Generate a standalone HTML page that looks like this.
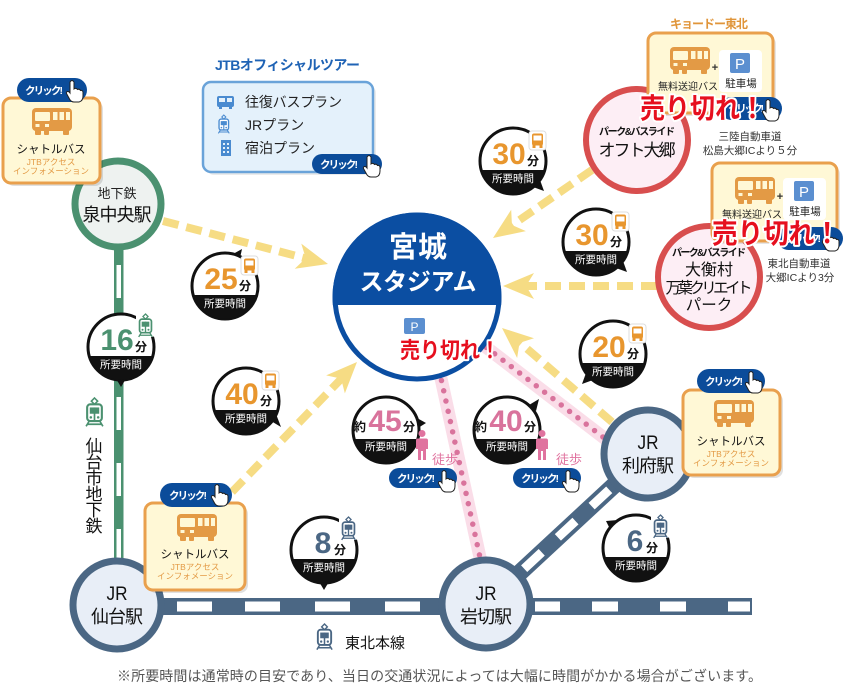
<!DOCTYPE html>
<html><head><meta charset="utf-8">
<style>
html,body{margin:0;padding:0;background:#fff;}
svg{display:block;font-family:"Liberation Sans","Noto Sans CJK JP",sans-serif;}
.uk{fill:#e60f1e;stroke:#fff;stroke-width:4;paint-order:stroke;font-weight:bold;stroke-linejoin:round;}
.pt{fill:#fff;font-size:10.5px;font-weight:bold;}
.wt{fill:#fff;font-size:10.5px;}
</style></head><body>
<svg width="850" height="700" viewBox="0 0 850 700" xmlns="http://www.w3.org/2000/svg">
<defs>
 <g id="hand"><path d="M4,2 Q6,-1 8,2 L8,9 Q10,7.5 11.5,9.5 Q13.5,8.5 14.5,10.5 Q16.5,10 17,12 L17,16 Q17,21 13,22 L8,22 Q5,22 3.5,19 L0.5,13.5 Q0,11.5 2,11.5 Q3,11.5 4,13 Z" fill="#fff" stroke="#222" stroke-width="1"/></g>
 <g id="bus">
   <rect x="0" y="0" width="40" height="23" rx="4" fill="#e39a45"/>
   <rect x="3" y="4" width="15" height="9" rx="1" fill="#fff8d6"/>
   <rect x="21" y="4" width="4.5" height="8" fill="#fff8d6"/>
   <rect x="27.5" y="4" width="4.5" height="8" fill="#fff8d6"/>
   <rect x="34" y="4" width="4" height="8" fill="#fff8d6"/>
   <rect x="3.5" y="16" width="4" height="3" fill="#fff8d6"/>
   <rect x="13" y="16" width="4" height="3" fill="#fff8d6"/>
   <rect x="3" y="21" width="6" height="6" rx="1" fill="#e39a45"/>
   <rect x="12" y="21" width="5" height="6" rx="1" fill="#e39a45"/>
   <rect x="31" y="21" width="6" height="6" rx="1" fill="#e39a45"/>
 </g>
 <g id="bb">
   <rect x="0" y="0" width="17" height="19" rx="3" fill="#fff" stroke="#ddd" stroke-width="1"/>
   <rect x="3" y="2.5" width="11" height="12" rx="2" fill="#e8962e"/>
   <rect x="4.5" y="4.5" width="8" height="5" fill="#fff"/>
   <rect x="3.5" y="14" width="3" height="3" fill="#e8962e"/>
   <rect x="10.5" y="14" width="3" height="3" fill="#e8962e"/>
 </g>
 <g id="tr">
   <path d="M10,0 L13,3 L10,6 L7,3 Z" fill="none" stroke="currentColor" stroke-width="1.5"/>
   <rect x="3" y="6" width="14" height="16" rx="3" fill="#fff" stroke="currentColor" stroke-width="2"/>
   <rect x="5.5" y="9" width="9" height="6" fill="currentColor"/>
   <rect x="9.2" y="9" width="1.6" height="13" fill="currentColor"/>
   <circle cx="6.5" cy="18.5" r="1.2" fill="currentColor"/>
   <circle cx="13.5" cy="18.5" r="1.2" fill="currentColor"/>
   <path d="M5,22 L2,27 M15,22 L18,27 M3,25 H17" stroke="currentColor" stroke-width="1.6" fill="none"/>
 </g>
 <path id="ah" d="M0,0 L31,-13 L23,0 L31,13 Z" fill="#f6dc84"/>
 <g id="person" fill="#e0739f">
   <circle cx="6" cy="3.5" r="3.5"/>
   <path d="M2,8.5 H10 Q12,8.5 12,10.5 V19 H10 V30 H7 V21 H5 V30 H2 V19 H0 V10.5 Q0,8.5 2,8.5 Z"/>
 </g>
 <clipPath id="stTop"><rect x="300" y="200" width="240" height="105"/></clipPath>
</defs>

<rect width="850" height="700" fill="#fff"/>

<!-- green subway -->
<rect x="114" y="240" width="9.5" height="330" fill="#4b9170"/>
<g fill="#fff">
 <rect x="116.5" y="265" width="4.5" height="33"/>
 <rect x="116.5" y="331" width="4.5" height="33"/>
 <rect x="116.5" y="397" width="4.5" height="33"/>
 <rect x="116.5" y="463" width="4.5" height="33"/>
 <rect x="116.5" y="529" width="4.5" height="33"/>
</g>

<!-- Tohoku main line -->
<rect x="118" y="598" width="634" height="17" fill="#4b6784"/>
<g fill="#fff">
 <rect x="177" y="601.5" width="35" height="10"/>
 <rect x="245" y="601.5" width="35" height="10"/>
 <rect x="315" y="601.5" width="35" height="10"/>
 <rect x="385" y="601.5" width="35" height="10"/>
 <rect x="535" y="601.5" width="25" height="10"/>
 <rect x="592" y="601.5" width="26" height="10"/>
 <rect x="660" y="601.5" width="26" height="10"/>
 <rect x="728" y="601.5" width="22" height="10"/>
</g>
<line x1="486" y1="604" x2="650" y2="452" stroke="#4b6784" stroke-width="17"/>
<line x1="486" y1="604" x2="650" y2="452" stroke="#fff" stroke-width="9" stroke-dasharray="24 22" stroke-dashoffset="-6"/>

<!-- pink walking paths -->
<line x1="437" y1="360" x2="481" y2="562" stroke="#fadde8" stroke-width="13"/>
<line x1="437" y1="360" x2="481" y2="562" stroke="#d9739c" stroke-width="5.5" stroke-linecap="round" stroke-dasharray="0 10.5"/>
<line x1="478" y1="341" x2="612" y2="444" stroke="#fadde8" stroke-width="13"/>
<line x1="478" y1="341" x2="612" y2="444" stroke="#d9739c" stroke-width="5.5" stroke-linecap="round" stroke-dasharray="0 10.5"/>

<!-- yellow dashed arrows -->
<g stroke="#f6dc84" stroke-width="8" stroke-dasharray="16 8" fill="none">
 <line x1="163" y1="221" x2="312" y2="260"/>
 <line x1="592" y1="170" x2="508" y2="228"/>
 <line x1="657" y1="286" x2="522" y2="286"/>
 <line x1="612" y1="422" x2="518" y2="341"/>
 <line x1="232" y1="492" x2="343" y2="377"/>
</g>
<use href="#ah" transform="translate(328,264) rotate(194.6)"/>
<use href="#ah" transform="translate(493,238) rotate(-34.5)"/>
<use href="#ah" transform="translate(503,286)"/>
<use href="#ah" transform="translate(502,328) rotate(40.5)"/>
<use href="#ah" transform="translate(357,362) rotate(133.9)"/>

<!-- stations -->
<circle cx="118" cy="204" r="43" fill="#eef2f0" stroke="#4b9170" stroke-width="7"/>
<text x="117" y="198" text-anchor="middle" font-size="13" fill="#222">地下鉄</text>
<text x="117" y="221" text-anchor="middle" font-size="18" fill="#111" textLength="69">泉中央駅</text>

<circle cx="117" cy="605" r="44" fill="#e8eef7" stroke="#4b6784" stroke-width="7"/>
<text x="117" y="600" text-anchor="middle" font-size="19" fill="#111" textLength="21" lengthAdjust="spacingAndGlyphs">JR</text>
<text x="117" y="623" text-anchor="middle" font-size="18" fill="#111" textLength="52">仙台駅</text>

<circle cx="486" cy="604" r="44" fill="#e8eef7" stroke="#4b6784" stroke-width="7"/>
<text x="486" y="600" text-anchor="middle" font-size="19" fill="#111" textLength="21" lengthAdjust="spacingAndGlyphs">JR</text>
<text x="486" y="623" text-anchor="middle" font-size="18" fill="#111" textLength="52">岩切駅</text>

<circle cx="648" cy="454" r="44" fill="#e8eef7" stroke="#4b6784" stroke-width="7"/>
<text x="648" y="449" text-anchor="middle" font-size="19" fill="#111" textLength="21" lengthAdjust="spacingAndGlyphs">JR</text>
<text x="648" y="472" text-anchor="middle" font-size="18" fill="#111" textLength="52">利府駅</text>

<!-- stadium -->
<circle cx="417" cy="297" r="82" fill="#fff" stroke="#0b4ea2" stroke-width="5"/>
<circle cx="417" cy="297" r="84.5" fill="#0b4ea2" clip-path="url(#stTop)"/>
<text x="418" y="257" text-anchor="middle" font-size="29" font-weight="bold" fill="#fff">宮城</text>
<text x="418" y="290" text-anchor="middle" font-size="24" font-weight="bold" fill="#fff" textLength="117">スタジアム</text>
<rect x="404" y="318" width="21" height="16" rx="2" fill="#5b8fd0"/>
<text x="414.5" y="331" text-anchor="middle" font-size="12" fill="#fff">P</text>

<!-- Park & bus ride circles -->
<circle cx="637" cy="140" r="51" fill="#fdeef5" stroke="#d84e4e" stroke-width="6"/>
<text x="637" y="135" text-anchor="middle" font-size="10" font-weight="bold" fill="#111" textLength="76">パーク&amp;バスライド</text>
<text x="637" y="156" text-anchor="middle" font-size="17" fill="#111" textLength="77">オフト大郷</text>

<circle cx="709" cy="277" r="51" fill="#fdeef5" stroke="#d84e4e" stroke-width="6"/>
<text x="709" y="256" text-anchor="middle" font-size="10" font-weight="bold" fill="#111" textLength="74">パーク&amp;バスライド</text>
<text x="709" y="275" text-anchor="middle" font-size="16" fill="#111">大衡村</text>
<text x="709" y="293" text-anchor="middle" font-size="15.5" fill="#111" textLength="87">万葉クリエイト</text>
<text x="709" y="310" text-anchor="middle" font-size="15.5" fill="#111">パーク</text>

<!-- time badges -->
<g transform="translate(225,286)">
 <polygon points="8,-32 17,-37 15,-28" fill="#111"/>
 <circle r="33" fill="#fff" stroke="#111" stroke-width="3"/>
 <path d="M-31.7,9 A33,33 0 0 0 31.7,9 Z" fill="#111"/>
 <text x="-4" y="3" text-anchor="middle" font-size="30" font-weight="bold" fill="#e8962e">25</text>
 <text x="14" y="4" font-size="12" font-weight="bold" fill="#111">分</text>
 <text x="0" y="21" text-anchor="middle" class="wt">所要時間</text>
 <use href="#bb" x="16" y="-30"/>
</g>
<g transform="translate(246,401)">
 <polygon points="25,20 35,26 30,13" fill="#111"/>
 <circle r="33" fill="#fff" stroke="#111" stroke-width="3"/>
 <path d="M-31.7,9 A33,33 0 0 0 31.7,9 Z" fill="#111"/>
 <text x="-4" y="3" text-anchor="middle" font-size="30" font-weight="bold" fill="#e8962e">40</text>
 <text x="14" y="4" font-size="12" font-weight="bold" fill="#111">分</text>
 <text x="0" y="21" text-anchor="middle" class="wt">所要時間</text>
 <use href="#bb" x="16" y="-30"/>
</g>
<g transform="translate(121,347)">
 <polygon points="-6,30 6,30 0,40" fill="#111"/>
 <circle r="33" fill="#fff" stroke="#111" stroke-width="3"/>
 <path d="M-31.7,9 A33,33 0 0 0 31.7,9 Z" fill="#111"/>
 <text x="-4" y="3" text-anchor="middle" font-size="30" font-weight="bold" fill="#4b9170">16</text>
 <text x="14" y="4" font-size="12" font-weight="bold" fill="#111">分</text>
 <text x="0" y="21" text-anchor="middle" class="wt">所要時間</text>
 <rect x="15" y="-34" width="19" height="24" rx="3" fill="#fff"/>
 <use href="#tr" transform="translate(16,-33) scale(0.85)" style="color:#4b9170"/>
</g>
<g transform="translate(513,161)">
 <polygon points="20,26 31,30 27,19" fill="#111"/>
 <circle r="33" fill="#fff" stroke="#111" stroke-width="3"/>
 <path d="M-31.7,9 A33,33 0 0 0 31.7,9 Z" fill="#111"/>
 <text x="-4" y="3" text-anchor="middle" font-size="30" font-weight="bold" fill="#e8962e">30</text>
 <text x="14" y="4" font-size="12" font-weight="bold" fill="#111">分</text>
 <text x="0" y="21" text-anchor="middle" class="wt">所要時間</text>
 <use href="#bb" x="16" y="-30"/>
</g>
<g transform="translate(596,242)">
 <polygon points="20,26 31,30 27,19" fill="#111"/>
 <circle r="33" fill="#fff" stroke="#111" stroke-width="3"/>
 <path d="M-31.7,9 A33,33 0 0 0 31.7,9 Z" fill="#111"/>
 <text x="-4" y="3" text-anchor="middle" font-size="30" font-weight="bold" fill="#e8962e">30</text>
 <text x="14" y="4" font-size="12" font-weight="bold" fill="#111">分</text>
 <text x="0" y="21" text-anchor="middle" class="wt">所要時間</text>
 <use href="#bb" x="16" y="-30"/>
</g>
<g transform="translate(613,354)">
 <polygon points="-20,26 -31,30 -27,19" fill="#111"/>
 <circle r="33" fill="#fff" stroke="#111" stroke-width="3"/>
 <path d="M-31.7,9 A33,33 0 0 0 31.7,9 Z" fill="#111"/>
 <text x="-4" y="3" text-anchor="middle" font-size="30" font-weight="bold" fill="#e8962e">20</text>
 <text x="14" y="4" font-size="12" font-weight="bold" fill="#111">分</text>
 <text x="0" y="21" text-anchor="middle" class="wt">所要時間</text>
 <use href="#bb" x="16" y="-30"/>
</g>
<g transform="translate(386,430)">
 <polygon points="31,-12 40,-7 32,-2" fill="#111"/>
 <circle r="33" fill="#fff" stroke="#111" stroke-width="3"/>
 <path d="M-31.7,9 A33,33 0 0 0 31.7,9 Z" fill="#111"/>
 <text x="-26" y="1" text-anchor="middle" font-size="12" font-weight="bold" fill="#111">約</text>
 <text x="-1" y="1" text-anchor="middle" font-size="30" font-weight="bold" fill="#d9739c">45</text>
 <text x="17" y="1" font-size="12" font-weight="bold" fill="#111">分</text>
 <text x="0" y="20" text-anchor="middle" class="wt">所要時間</text>
</g>
<g transform="translate(507,430)">
 <polygon points="22,-25 32,-31 29,-19" fill="#111"/>
 <circle r="33" fill="#fff" stroke="#111" stroke-width="3"/>
 <path d="M-31.7,9 A33,33 0 0 0 31.7,9 Z" fill="#111"/>
 <text x="-26" y="1" text-anchor="middle" font-size="12" font-weight="bold" fill="#111">約</text>
 <text x="-1" y="1" text-anchor="middle" font-size="30" font-weight="bold" fill="#d9739c">40</text>
 <text x="17" y="1" font-size="12" font-weight="bold" fill="#111">分</text>
 <text x="0" y="20" text-anchor="middle" class="wt">所要時間</text>
</g>
<g transform="translate(324,550)">
 <polygon points="-6,30 6,30 0,40" fill="#111"/>
 <circle r="33" fill="#fff" stroke="#111" stroke-width="3"/>
 <path d="M-31.7,9 A33,33 0 0 0 31.7,9 Z" fill="#111"/>
 <text x="-1" y="3" text-anchor="middle" font-size="30" font-weight="bold" fill="#4b6784">8</text>
 <text x="10" y="4" font-size="12" font-weight="bold" fill="#111">分</text>
 <text x="0" y="21" text-anchor="middle" class="wt">所要時間</text>
 <rect x="15" y="-34" width="19" height="24" rx="3" fill="#fff"/>
 <use href="#tr" transform="translate(16,-33) scale(0.85)" style="color:#4b6784"/>
</g>
<g transform="translate(636,548)">
 <polygon points="-18,-28 -30,-27 -25,-17" fill="#111"/>
 <circle r="33" fill="#fff" stroke="#111" stroke-width="3"/>
 <path d="M-31.7,9 A33,33 0 0 0 31.7,9 Z" fill="#111"/>
 <text x="-1" y="3" text-anchor="middle" font-size="30" font-weight="bold" fill="#4b6784">6</text>
 <text x="10" y="4" font-size="12" font-weight="bold" fill="#111">分</text>
 <text x="0" y="21" text-anchor="middle" class="wt">所要時間</text>
 <rect x="15" y="-34" width="19" height="24" rx="3" fill="#fff"/>
 <use href="#tr" transform="translate(16,-33) scale(0.85)" style="color:#4b6784"/>
</g>

<!-- walking -->
<use href="#person" x="416" y="430"/>
<text x="432" y="464" font-size="13" fill="#e0739f">徒歩</text>
<use href="#person" x="536" y="430"/>
<text x="556" y="464" font-size="13" fill="#e0739f">徒歩</text>
<rect x="389" y="468" width="68" height="20" rx="10" fill="#0b4c9a"/>
<text x="397" y="482" class="pt" textLength="38">クリック!</text>
<use href="#hand" x="438" y="470"/>
<rect x="513" y="468" width="68" height="20" rx="10" fill="#0b4c9a"/>
<text x="521" y="482" class="pt" textLength="38">クリック!</text>
<use href="#hand" x="562" y="470"/>

<!-- shuttle box top-left -->
<rect x="6" y="101" width="97" height="85" rx="8" fill="#000" opacity="0.12"/>
<rect x="3" y="98" width="97" height="85" rx="8" fill="#fff8d6" stroke="#e9a04d" stroke-width="3"/>
<use href="#bus" x="32" y="108"/>
<text x="51" y="153" text-anchor="middle" font-size="11.5" fill="#111">シャトルバス</text>
<text x="51" y="165" text-anchor="middle" font-size="8.5" fill="#e39a45">JTBアクセス</text>
<text x="51" y="174" text-anchor="middle" font-size="8.5" fill="#e39a45">インフォメーション</text>
<rect x="17" y="78" width="70" height="24" rx="12" fill="#0b4c9a"/>
<text x="25" y="94" class="pt" textLength="38">クリック!</text>
<use href="#hand" x="66" y="80"/>

<!-- shuttle box bottom-left -->
<rect x="148" y="506" width="100" height="87" rx="8" fill="#000" opacity="0.12"/>
<rect x="145" y="503" width="100" height="87" rx="8" fill="#fff8d6" stroke="#e9a04d" stroke-width="3"/>
<use href="#bus" x="177" y="514"/>
<text x="195" y="558" text-anchor="middle" font-size="11.5" fill="#111">シャトルバス</text>
<text x="195" y="570" text-anchor="middle" font-size="8.5" fill="#e39a45">JTBアクセス</text>
<text x="195" y="579" text-anchor="middle" font-size="8.5" fill="#e39a45">インフォメーション</text>
<rect x="160" y="483" width="72" height="24" rx="12" fill="#0b4c9a"/>
<text x="169" y="499" class="pt" textLength="38">クリック!</text>
<use href="#hand" x="211" y="484"/>

<!-- shuttle box right -->
<rect x="686" y="393" width="97" height="85" rx="8" fill="#000" opacity="0.12"/>
<rect x="683" y="390" width="97" height="85" rx="8" fill="#fff8d6" stroke="#e9a04d" stroke-width="3"/>
<use href="#bus" x="714" y="400"/>
<text x="731" y="445" text-anchor="middle" font-size="11.5" fill="#111">シャトルバス</text>
<text x="731" y="457" text-anchor="middle" font-size="8.5" fill="#e39a45">JTBアクセス</text>
<text x="731" y="466" text-anchor="middle" font-size="8.5" fill="#e39a45">インフォメーション</text>
<rect x="697" y="369" width="68" height="24" rx="12" fill="#0b4c9a"/>
<text x="705" y="385" class="pt" textLength="38">クリック!</text>
<use href="#hand" x="745" y="371"/>

<!-- JTB official tour -->
<text x="215" y="70" font-size="14" font-weight="bold" fill="#1f63b5" textLength="145">JTBオフィシャルツアー</text>
<rect x="206" y="85" width="170" height="90" rx="8" fill="#000" opacity="0.08"/>
<rect x="203" y="82" width="170" height="90" rx="8" fill="#e4f1fb" stroke="#6aa3d9" stroke-width="2.5"/>
<g fill="#4a8bd0">
 <rect x="217" y="96" width="17" height="11" rx="2"/>
 <rect x="219" y="98" width="6" height="4" fill="#e4f1fb"/>
 <rect x="227" y="98" width="5" height="4" fill="#e4f1fb"/>
 <rect x="219" y="106" width="3" height="3"/>
 <rect x="229" y="106" width="3" height="3"/>
 <rect x="221" y="140" width="10" height="16"/>
</g>
<use href="#tr" transform="translate(217,115) scale(0.68)" style="color:#4a8bd0"/>
<g fill="#e4f1fb">
 <rect x="223" y="143" width="2" height="2"/><rect x="227" y="143" width="2" height="2"/>
 <rect x="223" y="147" width="2" height="2"/><rect x="227" y="147" width="2" height="2"/>
 <rect x="223" y="151" width="2" height="2"/><rect x="227" y="151" width="2" height="2"/>
</g>
<text x="245" y="107" font-size="14" fill="#222" textLength="97">往復バスプラン</text>
<text x="245" y="130" font-size="14" fill="#222">JRプラン</text>
<text x="245" y="153" font-size="14" fill="#222">宿泊プラン</text>
<rect x="312" y="154" width="70" height="20" rx="10" fill="#0b4c9a"/>
<text x="320" y="168" class="pt" textLength="38">クリック!</text>
<use href="#hand" x="363" y="155"/>

<!-- Kyodo Tohoku box 1 -->
<text x="709" y="28" text-anchor="middle" font-size="12" font-weight="bold" fill="#e0953a" textLength="78">キョードー東北</text>
<rect x="651" y="36" width="125" height="80" rx="8" fill="#000" opacity="0.1"/>
<rect x="648" y="33" width="125" height="80" rx="8" fill="#fff8d6" stroke="#e9a04d" stroke-width="3"/>
<use href="#bus" x="670" y="47"/>
<text x="715" y="71" text-anchor="middle" font-size="11" font-weight="bold" fill="#333">+</text>
<rect x="719" y="50" width="43" height="42" rx="4" fill="#fff"/>
<rect x="730" y="53" width="20" height="20" rx="2" fill="#5b8fd0"/>
<text x="740" y="69" text-anchor="middle" font-size="15" fill="#fff">P</text>
<text x="741" y="87" text-anchor="middle" font-size="10.5" fill="#222">駐車場</text>
<text x="688" y="90" text-anchor="middle" font-size="10" fill="#222">無料送迎バス</text>
<rect x="720" y="97" width="62" height="23" rx="11.5" fill="#0b4c9a"/>
<text x="728" y="112" class="pt" textLength="36">クリック!</text>
<use href="#hand" x="762" y="99"/>
<text x="750" y="140" text-anchor="middle" font-size="10.5" fill="#333">三陸自動車道</text>
<text x="750" y="154" text-anchor="middle" font-size="10.5" fill="#333">松島大郷ICより５分</text>

<!-- Kyodo Tohoku box 2 -->
<rect x="715" y="166" width="125" height="78" rx="8" fill="#000" opacity="0.1"/>
<rect x="712" y="163" width="125" height="78" rx="8" fill="#fff8d6" stroke="#e9a04d" stroke-width="3"/>
<use href="#bus" x="735" y="177"/>
<text x="780" y="200" text-anchor="middle" font-size="11" font-weight="bold" fill="#333">+</text>
<rect x="783" y="178" width="43" height="42" rx="4" fill="#fff"/>
<rect x="794" y="181" width="20" height="20" rx="2" fill="#5b8fd0"/>
<text x="804" y="197" text-anchor="middle" font-size="15" fill="#fff">P</text>
<text x="805" y="215" text-anchor="middle" font-size="10.5" fill="#222">駐車場</text>
<text x="752" y="218" text-anchor="middle" font-size="10" fill="#222">無料送迎バス</text>
<rect x="777" y="227" width="66" height="23" rx="11.5" fill="#0b4c9a"/>
<text x="785" y="242" class="pt" textLength="36">クリック!</text>
<use href="#hand" x="822" y="229"/>
<text x="799" y="267" text-anchor="middle" font-size="10.5" fill="#333">東北自動車道</text>
<text x="800" y="281" text-anchor="middle" font-size="10.5" fill="#333">大郷ICより3分</text>

<!-- sold out labels -->
<text x="640" y="118" class="uk" font-size="28" textLength="125" lengthAdjust="spacingAndGlyphs">売り切れ！</text>
<text x="712" y="243" class="uk" font-size="28" textLength="128" lengthAdjust="spacingAndGlyphs">売り切れ！</text>
<text x="400" y="358" class="uk" font-size="22" textLength="100" lengthAdjust="spacingAndGlyphs">売り切れ！</text>

<!-- line labels -->
<use href="#tr" transform="translate(84,398) scale(1.05)" style="color:#4b9170"/>
<g font-size="17" fill="#111" text-anchor="middle">
 <text x="94" y="452">仙</text>
 <text x="94" y="468">台</text>
 <text x="94" y="484">市</text>
 <text x="94" y="500">地</text>
 <text x="94" y="516">下</text>
 <text x="94" y="532">鉄</text>
</g>
<use href="#tr" transform="translate(315,624) scale(0.95)" style="color:#4b6784"/>
<text x="345" y="648" font-size="15" fill="#111">東北本線</text>

<!-- footer -->
<text x="117" y="681" font-size="14" fill="#555" textLength="645">※所要時間は通常時の目安であり、当日の交通状況によっては大幅に時間がかかる場合がございます。</text>
</svg>
</body></html>
